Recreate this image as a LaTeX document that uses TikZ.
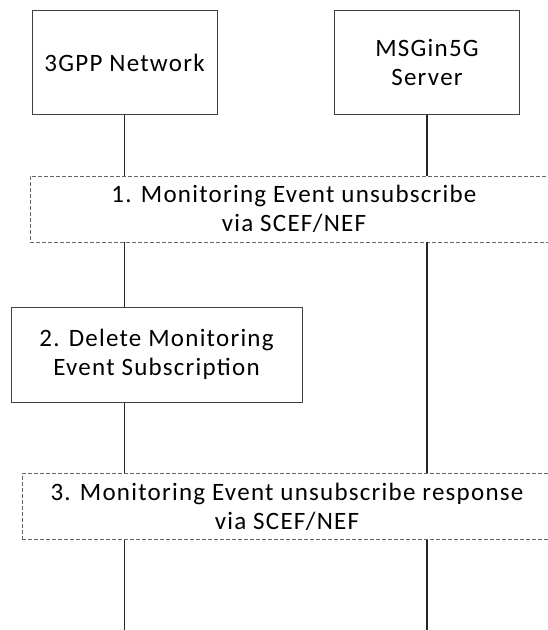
\documentclass[tikz,border=0pt]{standalone}
\usepackage{fontspec}
\setmainfont{Carlito}
\usetikzlibrary{calc,positioning}
\begin{document}
\begin{tikzpicture}[x=1pt,y=1pt,font=\fontsize{25pt}{29pt}\selectfont\addfontfeature{LetterSpace=5},
      ent/.style={draw=black!75,line width=1pt,minimum width=185pt,minimum height=104pt,align=center,inner sep=0pt},
      stp/.style={draw=black!75,line width=1pt,minimum width=291pt,minimum height=95pt,align=center,inner sep=0pt},
      msg/.style={draw=black!60,dashed,dash pattern=on 4pt off 2pt,line width=0.8pt,minimum height=66pt,align=center,inner sep=0pt},
      lf/.style={line width=1.2pt,color=black!85}]
      \useasboundingbox (0,0) rectangle (547,-630);
      \node[ent] (net) at (124.5,-62.5) {3GPP Network};
      \node[ent] (srv) at (427,-62.5) {MSGin5G\\Server};
      \node[msg,minimum width=528pt] (s1) at (294,-209) {1. Monitoring Event unsubscribe\\via SCEF/NEF};
      \node[stp] (s2) at (156.5,-354.5) {2. Delete Monitoring\\Event Subscription};
      \node[msg,minimum width=530pt] (s3) at (287,-506.5) {3. Monitoring Event unsubscribe response\\via SCEF/NEF};
      \coordinate (nend) at (124.5,-632);
      \coordinate (send) at (427,-632);
      \draw[lf] (net.south) -- (s1.north -| net.south);
      \draw[lf] (s1.south -| net.south) -- (s2.north -| net.south);
      \draw[lf] (s2.south -| net.south) -- (s3.north -| net.south);
      \draw[lf] (s3.south -| net.south) -- (nend);
      \draw[lf] (srv.south) -- (s1.north -| srv.south);
      \draw[lf] (s1.south -| srv.south) -- (s3.north -| srv.south);
      \draw[lf] (s3.south -| srv.south) -- (send);
    \end{tikzpicture}
\end{document}
